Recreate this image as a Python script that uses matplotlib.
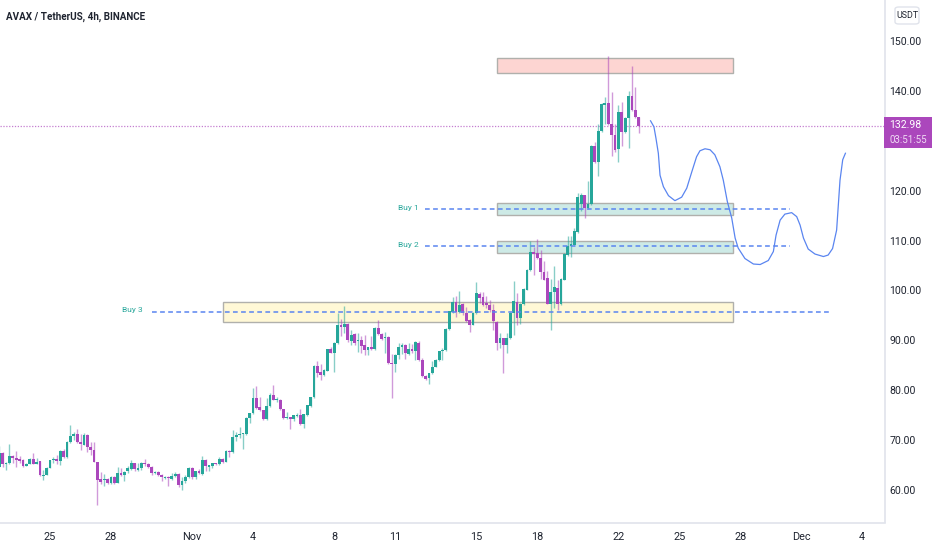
import matplotlib
matplotlib.use("Agg")
import matplotlib.pyplot as plt
from matplotlib.patches import Rectangle, FancyBboxPatch

plt.rcParams['font.family'] = ['Roboto', 'DejaVu Sans']

opens = [
 64.7,67.5,65.2,65.5,66.8,66.5,66.2,66,64.9,65.3,66.3,65.3,65.8,62.9,63,64.5,66,66.3,65.9,67.9,66.6,69.6,70.8,71.3,69.7,69.1,71.1,68.7,68.1,65.7,62.2,62,62.3,61.4,62.6,61.5,
 63.5,63,63.9,64.2,65.4,64.1,64.4,65.5,65.3,64.7,63.4,63.7,63.1,62.4,62.7,62.3,62.8,63.2,61,61.8,62.6,64.5,62.7,63.8,63.3,66.1,64.7,64.9,65.4,65.2,66.2,65.7,67.9,67.7,70.6,71,71.2,71.3,74.4,75.4,78.4,76.6,76.1,
 74.2,76.8,79,78,78.1,76.2,74.4,74.7,74.2,74.9,75,73.3,75.1,76.9,78.6,84.9,83.6,83,83.9,88.2,87.5,89.4,93,92.7,93.3,89.9,91.2,89.8,90,89,88.1,88.6,88.3,92.5,
 91.3,90.4,90.6,85.5,85.2,87.1,88.7,89,87.3,88.3,87.8,89.4,86.1,82.9,82.4,83.4,84.7,86,87.8,88.1,92.2,95.6,97.6,95.6,97.3,95.4,94.1,93.1,95.4,99.3,98.6,97.5,97,96.1,
 93.7,89.4,90.4,89,90.4,95.4,97.7,94.5,97.2,100.1,104.1,107.8,107.5,106.5,103.8,102.4,97.3,99.6,100.5,97.3,102.1,107.1,108.9,109.2,
 111.8,117.3,119.1,116.6,117.4,129,125.7,131.9,137.2,137.6,133.4,131.2,128.4,135.8,131.7,134.6,138.9,136.2,134.7]
closes = [
 67.5,65.3,65.5,66.8,66.4,66.1,65.9,64.8,65.3,66.3,65.3,65.7,63,63.1,64.5,66,66.3,65.8,67.9,66.6,69.7,70.9,71.3,69.6,69.2,71.1,68.7,68,65.7,62,61.6,62.3,61.4,62.6,61.5,63.5,
 63,63.6,64.4,65.4,64.2,64.5,65.5,65.2,64.6,63.5,63.7,63.1,62.6,62.7,62.5,62.8,63.2,61,61.8,62.6,64.5,62.6,63.8,63.4,66.1,64.8,65,65.4,65.2,66.2,65.6,67.9,67.6,70.7,71.1,71.3,71.4,74.5,75.4,78.5,76.5,76,74.2,
 76.8,79,78.1,78.3,76.2,74.4,74.7,74.2,75,75,73.3,75.2,77,78.6,84.9,83.5,83,84,88.2,87.5,89.5,93,92.7,93.3,90,91,89.4,90,88.9,88.1,88.6,88.3,92.5,91.3,
 90.2,90.6,85.5,85.2,87.1,88.7,89,87.4,88.3,87.8,89.7,86.1,82.9,82.3,83.4,84.7,86.1,87.8,88.1,92.3,95.8,97.7,95.6,97.1,95.4,93.8,93.1,95.4,99.4,98.5,97.1,97,96.1,93.8,
 89.4,90.4,89,90.4,95.5,97.8,94.5,97.3,100.2,104.2,107.8,107.4,106.5,103.8,102.1,97.3,99.6,100.6,97.3,102.2,107.4,108.9,109.3,112,
 118.7,119.2,116.6,117.4,129,125.8,131.9,137.4,137.6,133.4,131.2,128.2,135.8,131.7,134.6,139,136.2,134.7,132.9]
highs = [
 68.8,67.7,65.7,69.2,67,67.9,66.8,66.3,65.5,66.5,67.5,66.5,65.9,64,64.7,66.1,66.7,67,68,68.2,69.8,73,71.7,72.3,71.2,71.5,71.2,69.7,69.7,65.7,63.7,63.3,62.5,62.8,62.8,64.6,
 64.5,63.8,64.8,66,65.5,65.4,65.6,66.2,65.5,64.9,63.8,63.8,63.2,62.8,62.9,63.5,63.6,63.4,62.7,63.1,64.6,64.6,63.9,64.3,66.8,66.3,65.1,65.5,65.5,66.6,66.4,68,68,72,71.7,72.6,71.5,74.6,75.5,80.4,80.8,78.6,76.1,
 78.4,79.5,81,78.6,78.3,76.2,75.6,74.7,75.1,75.4,76.3,75.3,77.1,78.7,85,85.8,85.3,84.2,88.3,88.7,89.7,95.4,94.2,96.9,93.4,92,91.4,91.5,90.9,91,88.7,90.9,92.6,94.1,
 91.4,91.7,90.8,87.3,87.3,89.5,89.5,89.3,89.4,89.3,89.8,89.8,86.4,83.1,83.5,85.9,86.2,87.9,88.4,92.5,95.9,98.6,98.8,99.8,97.4,96.6,94.2,95.6,101.7,99.6,99.6,98.8,98,97.3,
 93.8,91.4,90.4,91.4,95.7,101.8,99.4,97.4,100.4,104.4,110,108.8,110.4,108.1,106,104,102.2,104.9,102,102.4,107.6,110.9,110.9,112.5,
 119.5,119.5,119.2,121.9,129.2,129.8,133.4,137.5,138.7,146.9,139.7,133.4,137.2,137.7,134.7,140,144.9,140.7,134.7]
lows = [
 64.6,64.7,64,65.3,65.5,64.7,65.5,64.7,64.8,65.2,65.2,65.3,62.9,62,63,64.4,65.5,65.3,65.1,66.5,66.5,69.5,70,69.5,68.1,69,67.7,67,65.6,57,61.3,60.8,61.2,61.2,61.3,61.4,
 62.9,61.9,63.4,64.1,63.8,63.8,64,64.8,64.5,63,63.3,62.8,61.9,62.2,60.8,62.1,62.7,60.6,60.1,61.5,62.4,62.3,62.3,63.3,63.1,63.9,63.9,64.4,65,65,65.4,65.6,66.6,67.5,69.9,70.4,68.3,71.1,73.4,75.2,76.3,75.8,74.1,
 74.1,76.7,78,77.7,76,74.2,74.2,72.2,73.9,74.6,73.1,72.4,74.9,76.7,78.5,82.6,82,82.9,83.8,87.4,83.6,89.3,90.9,91.4,89.7,89.1,89.1,87.6,87.4,87.1,87.1,88,88.1,91,
 90.1,87.4,85.3,78.4,83.7,86.2,87.3,86.2,87,87.5,86.1,85.9,82.7,82.1,81.3,83.3,84.6,85.8,86,87.9,92.1,95.4,94.6,95.4,95.1,93.7,91.7,93,95.3,97.4,96.9,96.4,95.7,92.1,
 88,88.4,83.5,87.4,90.3,91.1,93.1,93.3,97,100,104,103,106.4,102.2,102,97.2,92.1,96.4,96,97.1,102,106.9,106.8,109.1,
 111.5,116,114.6,116.4,117.2,125.6,123,131.8,133.4,133.2,127,127.7,125.7,129,131.6,128.6,136,134.6,131.5]

# projected path sketched on the chart
path_x = [192.5,193.5,194.1,194.8,195.3,196.3,197.8,199.7,201.7,203.2,204.7,206.1,207.1,208.6,210.1,211.5,213,214,215.2,216.5,217.5,218.4,220.4,222.9,224.9,227.3,228.8,229.6,230.8,232.2,234.2,235.7,236.7,237.7,239.1,241.1,243.6,245,246.3,247.5,248.1,248.5,249.3,250.1]
path_y = [134,132.8,130.5,127.5,123.1,120.8,119,118,118.7,120.5,123.8,126.8,128,128.4,128.2,127.2,124.8,122.1,117.8,114.5,110.5,108.5,106.4,105.3,105.2,106,107.8,111.1,114.1,115.3,115.6,114.8,113.1,110.5,108.3,107.3,106.8,107.1,108.4,112.1,118.1,122.1,126.2,127.5]

y_ticks = [60,70,80,90,100,110,120,130,140,150]
x_tick_pos = [15,33,57,75,99,117,141,159,183,201,219,237,255]
x_tick_labels = ['25','28','Nov','4','8','11','15','18','22','25','28','Dec','4']
y_tick_show = [60,70,80,90,100,110,120,140,150]
last_price = 132.98
countdown = '03:51:55'

zones = [(147.1,216.9,143.6,146.6,'#fdd5d2'),
         (147.1,216.9,115.1,117.5,'#cdeae6'),
         (147.1,216.9,107.5,110.0,'#cdeae6'),
         (66.1,216.9,93.7,97.7,'#fff8d6')]
levels = [('Buy 1',116.3,125.8,233.7,120.9),
          ('Buy 2',108.9,125.8,233.7,120.9),
          ('Buy 3',95.7,45.1,246.1,39.3)]

GREEN = '#26a69a'
PURPLE = '#ab47bc'
BLUE = '#5a85f0'
LINE = '#e0e3eb'
TXT = '#1f2430'

W, H = 932, 550
fig = plt.figure(figsize=(W/100, H/100), dpi=100, facecolor='white')
ax = fig.add_axes([0, 1-522.5/H, 885/W, 522.5/H])
ax.set_facecolor('white')
ax.set_xlim(0.2, 261.8)
ax.set_ylim(53.49, 158.22)

for x0, x1, y0, y1, c in zones:
    ax.add_patch(Rectangle((x0, y0), x1-x0, y1-y0, facecolor=c, edgecolor='#b0b0ac', lw=1.0, zorder=1))

idx = list(range(len(opens)))
for i, o, c, h, l in zip(idx, opens, closes, highs, lows):
    col = GREEN if c >= o else PURPLE
    ax.plot([i, i], [l, h], color=col, lw=1.0, alpha=0.55, solid_capstyle='butt', zorder=2)
    ax.bar(i, abs(c-o), bottom=min(o, c), width=0.82, color=col, lw=0, zorder=3)

for name, y, x0, x1, tx in levels:
    ax.plot([x0, x1], [y, y], color=BLUE, lw=1.1, ls=(0, (3.1, 2.2)), zorder=4)
    ax.text(tx, y+0.3, name, color=GREEN, fontsize=6, va='center', ha='center', zorder=5)

ax.plot(path_x, path_y, color=BLUE, lw=0.9, solid_joinstyle='round', zorder=5)
ax.axhline(last_price, color=PURPLE, lw=0.9, ls=(0, (1, 1.3)), alpha=0.7, zorder=1.5)

ax.yaxis.tick_right()
ax.set_yticks(y_tick_show)
ax.set_yticklabels([f'{v:.2f}' for v in y_tick_show])
ax.set_xticks(x_tick_pos)
ax.set_xticklabels(x_tick_labels)
ax.tick_params(axis='y', length=0, pad=3, labelsize=7.6, labelcolor=TXT)
ax.tick_params(axis='x', length=0, pad=7, labelsize=7.8, labelcolor=TXT)
for s in ['top', 'left']:
    ax.spines[s].set_visible(False)
for s in ['right', 'bottom']:
    ax.spines[s].set_color(LINE)
    ax.spines[s].set_linewidth(1.2)

fig.text(6/W, 1-17/H, 'AVAX / TetherUS, 4h, BINANCE', fontsize=7.1, color=TXT, va='center', ha='left',
         fontweight='bold')

fig.patches.append(Rectangle((884/W, 1-148/H), 48/W, 31/H, transform=fig.transFigure,
                             facecolor=PURPLE, edgecolor='none', zorder=6))
fig.text(889/W, 1-125.5/H, f'{last_price:.2f}', fontsize=7.6, color='white', va='center', ha='left', zorder=7)
fig.text(889/W, 1-140/H, countdown, fontsize=7.0, color='#f0dcf4', va='center', ha='left', zorder=7)

fig.patches.append(FancyBboxPatch((895/W, 1-24/H), 24/W, 17/H, transform=fig.transFigure,
                                  boxstyle='round,pad=0,rounding_size=0.004', facecolor='white',
                                  edgecolor=LINE, lw=1.0, zorder=6))
fig.text(907/W, 1-15.5/H, 'USDT', fontsize=6.4, color=TXT, va='center', ha='center', zorder=7)

fig.savefig('out.png', dpi=100)
